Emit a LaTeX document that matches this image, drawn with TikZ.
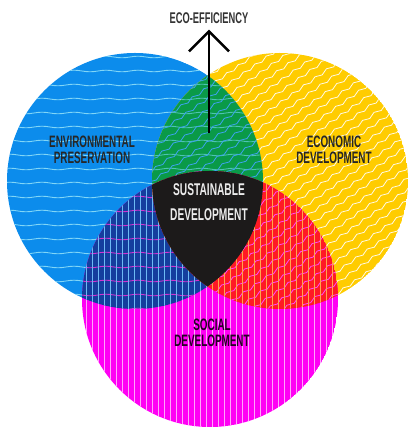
\documentclass[tikz,border=0pt]{standalone}
\usepackage{fontspec}
\newfontfamily\vennfont{Liberation Sans Bold}[FakeStretch=0.6]
\usetikzlibrary{arrows.meta,decorations.pathmorphing}

\definecolor{envblue}{HTML}{0C8CEC}
\definecolor{ecoyellow}{HTML}{FFCC00}
\definecolor{socmagenta}{HTML}{FF00F4}
\definecolor{envecogreen}{HTML}{0A9A48}
\definecolor{envsocnavy}{HTML}{143E9E}
\definecolor{ecosocred}{HTML}{FF1A24}
\definecolor{coreblack}{HTML}{1C1A1A}

\newcommand\envcircle{(135,246) circle (128)}
\newcommand\ecocircle{(280,246) circle (128)}
\newcommand\soccircle{(210,128) circle (128)}

\newcommand\envwaves[1]{\foreach \y in {118,132,...,376}{\draw[#1,envwave] (0,\y) -- (272,\y);}}
\newcommand\ecowaves[1]{\begin{scope}[rotate around={35:(280,246)}]
    \foreach \y in {112,121,...,382}{\draw[#1,ecowave] (140,\y) -- (420,\y);}\end{scope}}
\newcommand\socstripes[1]{\foreach \x in {80,86,...,340}{\draw[#1,stripe] (\x,0) -- (\x,256);}}

\begin{document}
\begin{tikzpicture}
    [x=1pt,y=1pt,>={Straight Barb[length=20pt,width=40pt]},
     envwave/.style={line width=0.9pt,decorate,decoration={snake,amplitude=0.8pt,segment length=32pt}},
     ecowave/.style={line width=0.8pt,decorate,decoration={snake,amplitude=1.3pt,segment length=14pt}},
     stripe/.style={line width=0.7pt},
     setname/.style={font=\vennfont\fontsize{16.5}{16}\selectfont,align=center,inner sep=0pt}]
    \useasboundingbox (0,0) rectangle (408,427);

    %Circles
    \begin{scope}
        \clip \envcircle;
        \fill[envblue] \envcircle;
        \envwaves{cyan!50!white}
    \end{scope}
    \begin{scope}
        \clip \ecocircle;
        \fill[ecoyellow] \ecocircle;
        \ecowaves{white!90!ecoyellow}
    \end{scope}
    \begin{scope}
        \clip \soccircle;
        \fill[socmagenta] \soccircle;
        \socstripes{white!65!socmagenta}
    \end{scope}

    %Overlaps
    \begin{scope}
        \clip \envcircle; \clip \ecocircle;
        \fill[envecogreen] \ecocircle;
        \envwaves{cyan!50!green!70!white}
        \ecowaves{envblue!80!white}
    \end{scope}
    \begin{scope}
        \clip \envcircle; \clip \soccircle;
        \fill[envsocnavy] \soccircle;
        \envwaves{violet!45!magenta!80!white}
        \socstripes{envblue!60!white}
    \end{scope}
    \begin{scope}
        \clip \ecocircle; \clip \soccircle;
        \fill[ecosocred] \soccircle;
        \ecowaves{socmagenta!70!white}
        \socstripes{orange!70!white}
    \end{scope}
    \begin{scope}
        \clip \envcircle; \clip \ecocircle;
        \fill[coreblack] \soccircle;
    \end{scope}

    %Labels
    \node[setname,text=black!85] (env) at (92,277.5) {ENVIRONMENTAL\\PRESERVATION};
    \node[setname,text=black!85] (eco) at (334,277) {ECONOMIC\\DEVELOPMENT};
    \node[setname,text=black!70!violet] (soc) at (212,94.5) {SOCIAL\\DEVELOPMENT};
    \node[setname,text=white!92!black,font=\vennfont\fontsize{17}{24.5}\selectfont] (core) at (209,225) {SUSTAINABLE\\DEVELOPMENT};
    \node[setname,text=black!80,font=\vennfont\fontsize{15.5}{16}\selectfont] (effic) at (209,409) {ECO-EFFICIENCY};

    %Arrow
    \coordinate (stem) at (209,294);
    \draw[->,line width=2.5pt,shorten >=6pt] (stem) -- (effic.south);

\end{tikzpicture}
\end{document}
